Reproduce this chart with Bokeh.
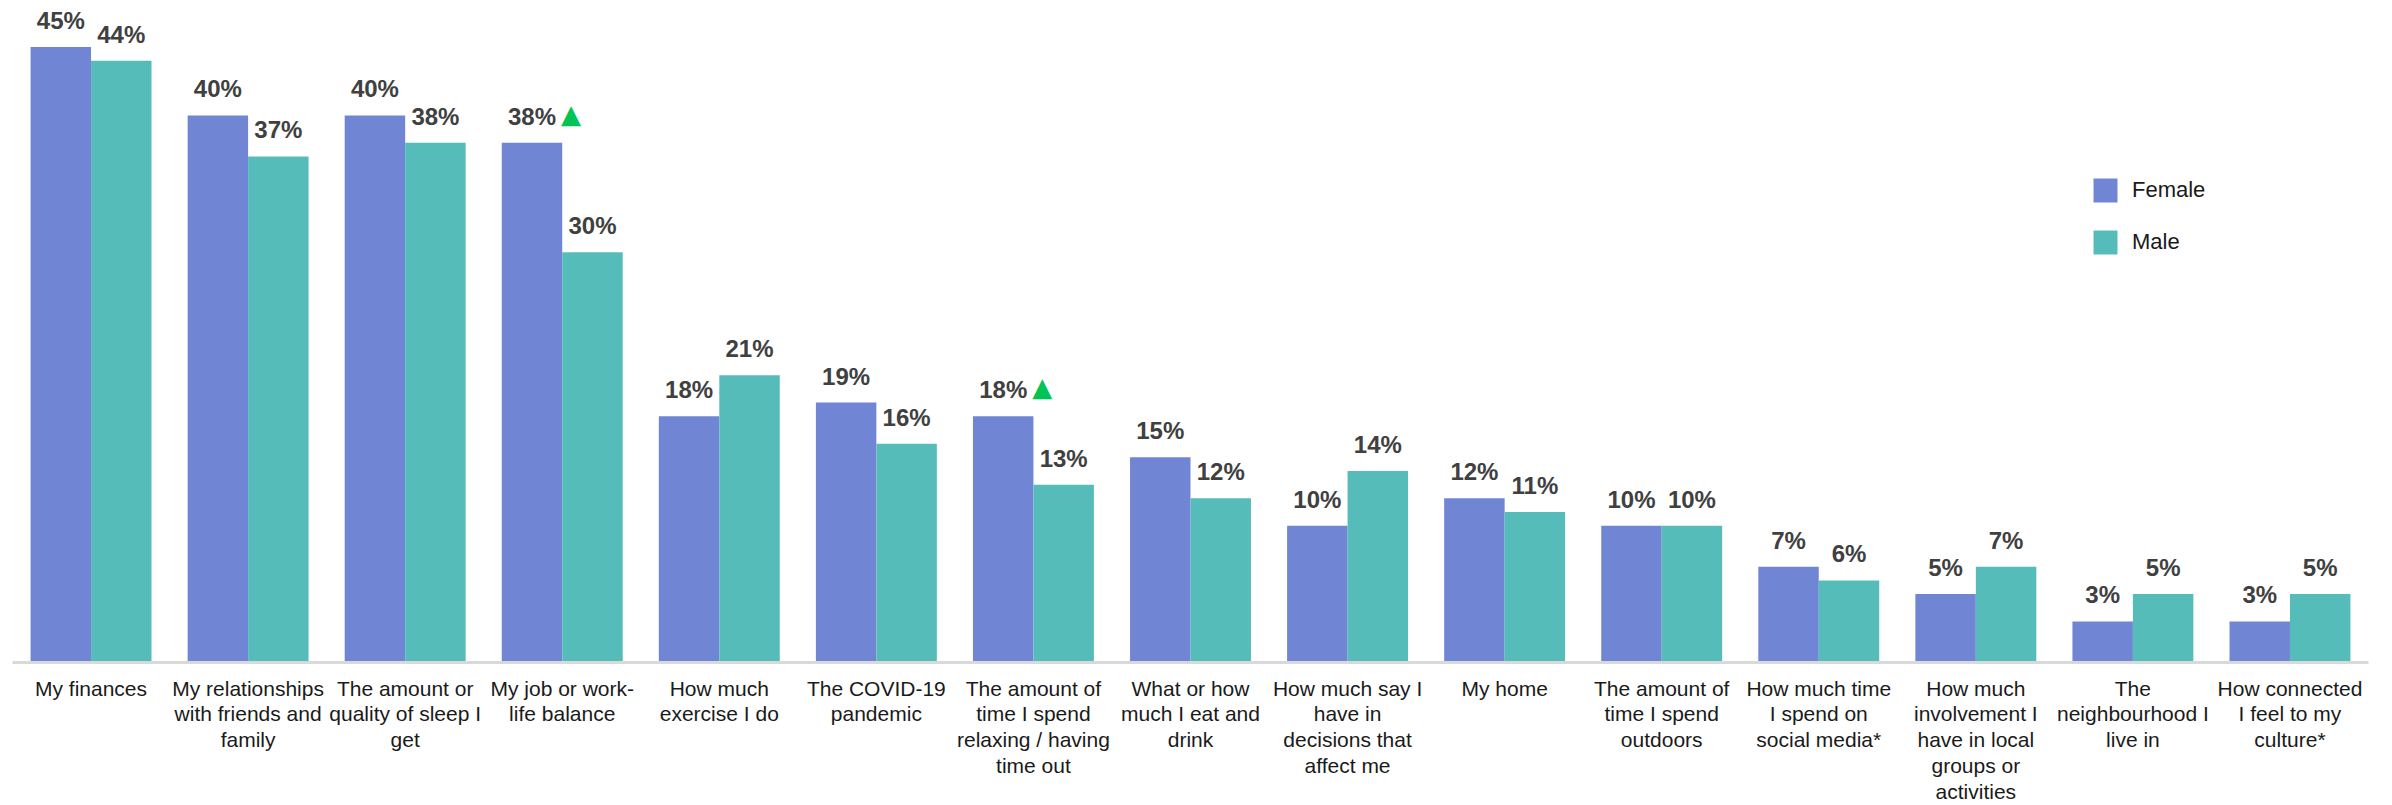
from bokeh.plotting import figure
from bokeh.models import ColumnDataSource, Legend, LegendItem
from bokeh.transform import dodge
from bokeh.core.properties import value
from bokeh.embed import file_html
from bokeh.resources import INLINE

categories = [
    "My finances",
    "My relationships\nwith friends and\nfamily",
    "The amount or\nquality of sleep I\nget",
    "My job or work-\nlife balance",
    "How much\nexercise I do",
    "The COVID-19\npandemic",
    "The amount of\ntime I spend\nrelaxing / having\ntime out",
    "What or how\nmuch I eat and\ndrink",
    "How much say I\nhave in\ndecisions that\naffect me",
    "My home",
    "The amount of\ntime I spend\noutdoors",
    "How much time\nI spend on\nsocial media*",
    "How much\ninvolvement I\nhave in local\ngroups or\nactivities",
    "The\nneighbourhood I\nlive in",
    "How connected\nI feel to my\nculture*",
]
female = [45, 40, 40, 38, 18, 19, 18, 15, 10, 12, 10, 7, 5, 3, 3]
male = [44, 37, 38, 30, 21, 16, 13, 12, 14, 11, 10, 6, 7, 5, 5]
female_sig_up = [False, False, False, True, False, False, True, False,
                 False, False, False, False, False, False, False]

FEMALE_C = "#7086D5"
MALE_C = "#56BCBA"
LABEL_C = "#404040"
FONT = "Liberation Sans"

src = ColumnDataSource(dict(
    cat=categories,
    female=female,
    male=male,
    flabel=[f"{v}%" for v in female],
    mlabel=[f"{v}%" for v in male],
))
sig_cats = [c for c, s in zip(categories, female_sig_up) if s]
sig_vals = [v for v, s in zip(female, female_sig_up) if s]
sig_src = ColumnDataSource(dict(cat=sig_cats, y=sig_vals, t=["▲"] * len(sig_cats)))

p = figure(x_range=categories, y_range=(0, 48.4), width=2392, height=805,
           output_backend="svg", toolbar_location=None,
           min_border_left=12, min_border_right=24, min_border_top=0,
           min_border_bottom=110)

bw = 0.385
rf = p.vbar(x=dodge("cat", -bw / 2, range=p.x_range), top="female", width=bw,
            source=src, fill_color=FEMALE_C, line_color=None)
rm = p.vbar(x=dodge("cat", bw / 2, range=p.x_range), top="male", width=bw,
            source=src, fill_color=MALE_C, line_color=None)

p.text(x=dodge("cat", -bw / 2, range=p.x_range), y="female", text="flabel", source=src,
       text_align="center", text_baseline="bottom", y_offset=-13,
       text_font=value(FONT), text_font_size="24px", text_font_style="bold",
       text_color=LABEL_C)
p.text(x=dodge("cat", bw / 2, range=p.x_range), y="male", text="mlabel", source=src,
       text_align="center", text_baseline="bottom", y_offset=-13,
       text_font=value(FONT), text_font_size="24px", text_font_style="bold",
       text_color=LABEL_C)
p.text(x=dodge("cat", -bw / 2, range=p.x_range), y="y", text="t", source=sig_src,
       text_align="left", text_baseline="bottom", x_offset=29, y_offset=-14,
       text_font=value("DejaVu Sans"), text_font_size="26px", text_color="#00C453")

legend = Legend(items=[LegendItem(label="Female", renderers=[rf]),
                       LegendItem(label="Male", renderers=[rm])],
                location=(2078, 405), border_line_color=None,
                background_fill_alpha=0, glyph_width=30, glyph_height=30,
                spacing=22, label_text_font=FONT, label_text_font_size="22px",
                label_text_color="#1a1a1a", label_standoff=12)
p.add_layout(legend)

p.x_range.range_padding = 0
p.xgrid.grid_line_color = None
p.ygrid.grid_line_color = None
p.yaxis.visible = False
p.outline_line_color = None
p.xaxis.axis_line_color = "#D9D9D9"
p.xaxis.axis_line_width = 3
p.xaxis.major_tick_line_color = None
p.xaxis.minor_tick_line_color = None
p.xaxis.major_label_standoff = 8
p.xaxis.major_label_text_font = FONT
p.xaxis.major_label_text_font_size = "21px"
p.xaxis.major_label_text_color = "#1a1a1a"
p.xaxis.major_label_text_line_height = 1.12

open("out.html", "w").write(file_html(p, INLINE))
